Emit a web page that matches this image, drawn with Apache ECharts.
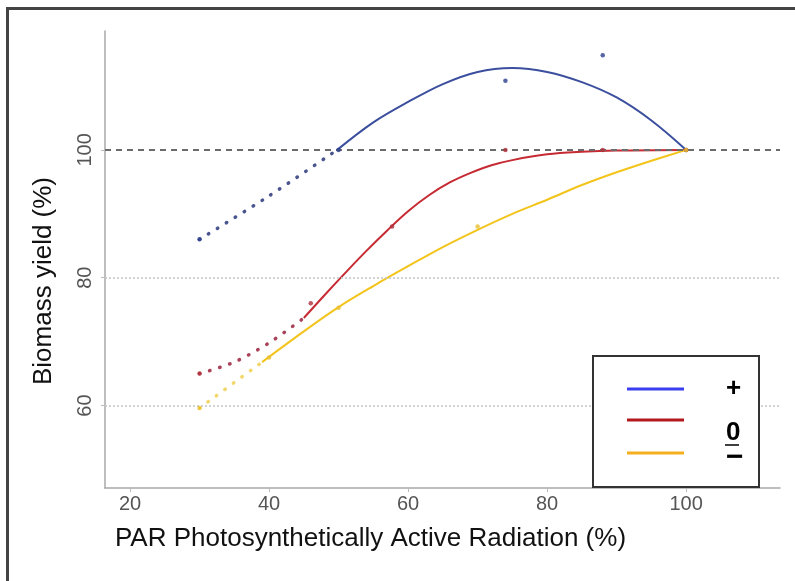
<!DOCTYPE html>
<html><head><meta charset="utf-8">
<script src="https://cdn.jsdelivr.net/npm/echarts@6/dist/echarts.min.js"></script>
<style>html,body{margin:0;padding:0;background:#fff}#c{width:795px;height:581px}</style>
</head><body><div id="c"></div>
<script>
// ---- data ----
const xTicks = [20, 40, 60, 80, 100];
const yTicks = [60, 80, 100];
const seriesNames = ['+', '0', '\u2212'];

// "+" (blue)
const blueFit = [[49.8,100],[55,104.3],[60,107.5],[65,110.3],[70,112.2],[75,112.8],[80,112.2],[85,110.6],[90,108.2],[95,104.6],[100,100]];
const blueExt = [[30,86],[40,92.8],[49.8,100]];
const bluePts = [[30,86],[50,100],[74,110.8],[88,114.8],[100,100]];

// "0" (red)
const redFit = [[45,73.7],[48,77.3],[51,80.8],[54,84.2],[57,87.4],[60,90.4],[63,92.9],[66,94.9],[69,96.4],[72,97.6],[75,98.4],[80,99.3],[85,99.7],[90,99.9],[100,100]];
const redExt = [[30,65],[35,66.8],[40,69.8],[45,73.7]];
const redPts = [[30,65],[46,76],[57.7,88],[74,100],[88,100],[100,100]];

// "−" (yellow)
const yelFit = [[39,66.8],[45,71.6],[50,75.4],[55,78.7],[60,81.8],[65,84.8],[70,87.5],[75,90.0],[80,92.2],[85,94.5],[90,96.5],[95,98.3],[100,100]];
const yelExt = [[30,59.6],[39,66.8]];
const yelPts = [[30,59.6],[40,67.5],[50,75.3],[70,88],[100,100]];

const refLines = [100, 80, 60];

const FONT = 'Liberation Sans, Arial, sans-serif';

function group(name, fit, ext, pts, cFit, cExt, cPt) {
  return [
    { name, type:'line', data: ext, showSymbol:false, smooth:0.3, z:3,
      lineStyle:{ color:cExt, width:3.5, type:[0.5, 10], cap:'round' }, itemStyle:{color:cFit} },
    { name, type:'line', data: fit, showSymbol:false, smooth:0.35, z:4,
      lineStyle:{ color:cFit, width:2 }, itemStyle:{color:cFit} },
    { name, type:'scatter', data: pts, symbolSize:4.5, z:5, itemStyle:{ color:cPt } }
  ];
}

const series = [
  { type:'line', data:[], silent:true, z:1,
    markLine:{ silent:true, symbol:'none', label:{show:false},
      data:[
        { yAxis: refLines[0], lineStyle:{ color:'#6b6b6b', width:2, type:[6,5] } },
        { yAxis: refLines[1], lineStyle:{ color:'#c4c4c4', width:1.5, type:[2,2] } },
        { yAxis: refLines[2], lineStyle:{ color:'#c4c4c4', width:1.5, type:[2,2] } }
      ] } },
  ...group(seriesNames[0], blueFit, blueExt, bluePts, '#3b4f9e', '#4a5590', '#2c3f8f'),
  ...group(seriesNames[1], redFit, redExt, redPts, '#c62a32', '#a8435a', '#b0303a'),
  ...group(seriesNames[2], yelFit, yelExt, yelPts, '#f2c41c', '#f3d66a', '#e8c030')
];

function legendOne(name, color, top, fontSize, shiftPad) {
  return {
    orient:'vertical', left:627, top:top, padding:0,
    itemWidth:57, itemHeight:3, icon:'rect', z:20,
    data:[{ name, itemStyle:{ color } }],
    formatter: n => '{t|' + n + '}',
    textStyle:{ fontFamily:FONT, fontWeight:'bold', fontSize:fontSize, color:'#000', padding:[0,0,0,37],
      rich:{ t:{ fontFamily:FONT, fontWeight:'bold', fontSize:fontSize, color:'#000', padding:[shiftPad,0,0,0] } } }
  };
}

const chart = echarts.init(document.getElementById('c'), null, {renderer:'canvas'});
chart.setOption({
  animation:false,
  backgroundColor:'#fff',
  grid:{ left:105, right:15, top:31, bottom:93, containLabel:false },
  xAxis:{
    type:'value', min:16.4, max:113.5,
    name:'PAR Photosynthetically Active Radiation (%)',
    nameLocation:'middle', nameGap:38,
    nameTextStyle:{ fontFamily:FONT, fontSize:26, color:'#111', padding:[0,144,0,0] },
    axisLine:{ show:true, lineStyle:{ color:'#a8a8a8', width:1.5 } },
    axisTick:{ show:true, length:4, lineStyle:{ color:'#bbb' }, customValues:xTicks },
    axisLabel:{ fontFamily:FONT, fontSize:20, color:'#555', margin:6, customValues:xTicks },
    splitLine:{ show:false }
  },
  yAxis:{
    type:'value', min:47.1, max:118.6,
    name:'Biomass yield (%)',
    nameLocation:'middle', nameGap:48,
    nameTextStyle:{ fontFamily:FONT, fontSize:26, color:'#111', padding:[0,43,0,0] },
    axisLine:{ show:true, lineStyle:{ color:'#a8a8a8', width:1.5 } },
    axisTick:{ show:true, length:4, lineStyle:{ color:'#bbb' }, customValues:yTicks },
    axisLabel:{ fontFamily:FONT, fontSize:20, color:'#555', margin:10, rotate:90, customValues:yTicks },
    splitLine:{ show:false }
  },
  legend:[
    legendOne(seriesNames[0], '#3a3ef0', 376, 26, 0),
    legendOne(seriesNames[1], '#b3181c', 418.5, 26, 26),
    legendOne(seriesNames[2], '#f5ae1e', 443, 30, 10)
  ],
  graphic:[
    { type:'rect', left:5, top:6, z:100, silent:true,
      shape:{ x:0, y:0, width:800, height:600 },
      style:{ fill:'none', stroke:'#444', lineWidth:3 } },
    { type:'rect', z:10, silent:true, shape:{ x:593, y:356, width:166, height:131 },
      style:{ fill:'#fff', stroke:'#333', lineWidth:2 } },
    { type:'line', z:100, silent:true, shape:{ x1:725, y1:445, x2:739, y2:445 },
      style:{ stroke:'#000', lineWidth:1.5 } }
  ],
  series
});
</script>
</body></html>
